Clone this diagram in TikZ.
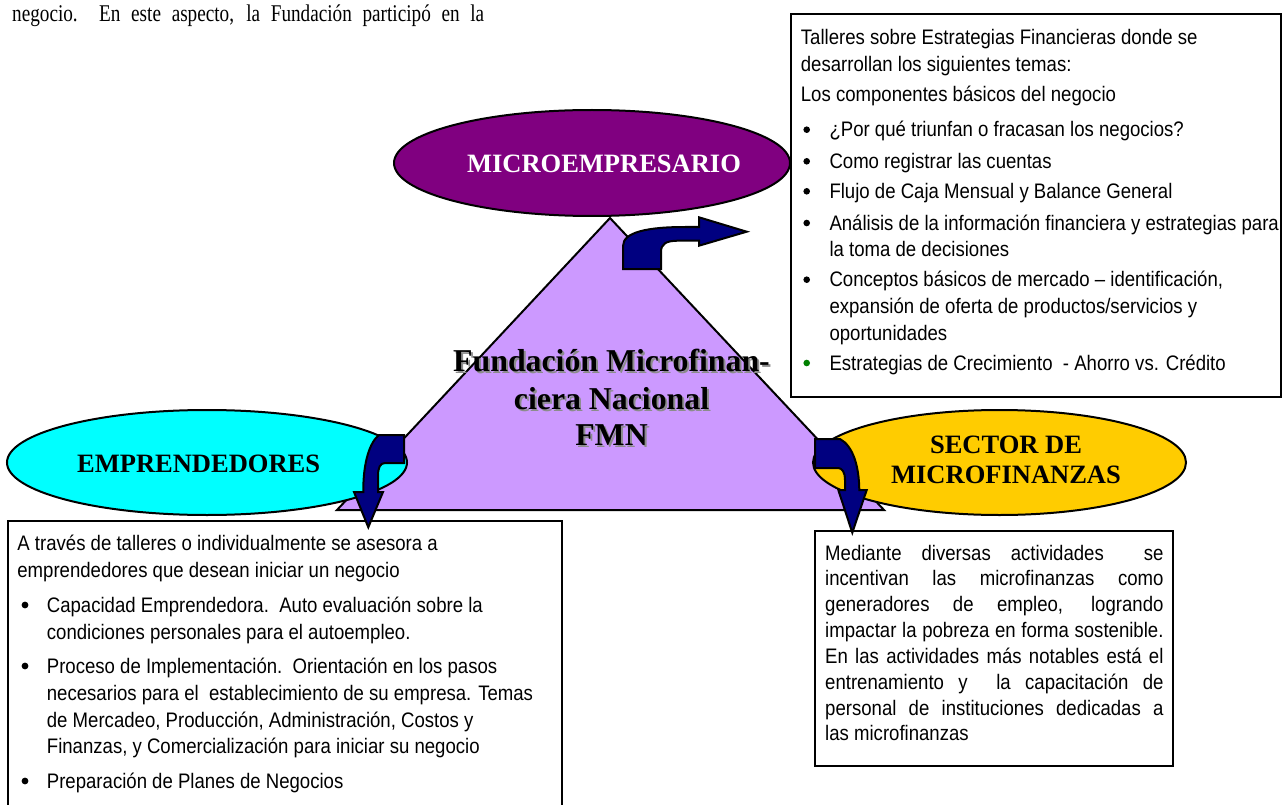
\documentclass[tikz,border=0pt]{standalone}
\usepackage{fontspec}
\setmainfont{Liberation Serif}
\newfontfamily\bodyfont{Liberation Sans}[FakeStretch=0.885]
\newfontfamily\topfont{Liberation Serif}[FakeStretch=0.8]
\usetikzlibrary{shapes.geometric}
\definecolor{lav}{HTML}{CC99FF}
\definecolor{purp}{HTML}{800080}
\definecolor{cyn}{HTML}{00FFFF}
\definecolor{yel}{HTML}{FFCC00}
\definecolor{nav}{HTML}{000080}
\definecolor{grn}{HTML}{008000}
\begin{document}
\begin{tikzpicture}[x=1pt,y=-1pt,
  ell/.style={ellipse, draw=black, line width=2pt, inner sep=0pt},
  lbl/.style={font=\fontsize{26.5}{30}\selectfont\bfseries, inner sep=0pt, anchor=base},
  fmn/.style={font=\fontsize{31.8}{36}\selectfont\bfseries, inner sep=0pt, anchor=base},
  boxframe/.style={draw=black, line width=2pt, fill=white},
  txtline/.style={font=\bodyfont\fontsize{21}{26.7}\selectfont, inner sep=0pt, anchor=base west},
  blockarrow/.style={fill=nav, draw=black, line width=2pt, line join=miter},
  bul/.style={fill=black}
]
\clip (0,0) rectangle (1282,805);
\fill[white] (0,0) rectangle (1282,805);

% top text
\node[anchor=base west, inner sep=0pt, font=\topfont\fontsize{24}{28}\selectfont] (toptext) at (12,22)
  {\makebox[472pt][s]{negocio.\ \ En este aspecto, la Fundación participó en la}};

% triangle
\draw[fill=lav, line width=2pt, line join=miter] (610,218) -- (884,510) -- (337,510) -- cycle;

% ellipses
\node[ell, fill=cyn, minimum width=400pt, minimum height=105pt] (empe) at (207,462.5) {};
\node[ell, fill=yel, minimum width=373pt, minimum height=105pt] (sect) at (999.5,462.5) {};
\node[ell, fill=purp, minimum width=396pt, minimum height=106pt] (micro) at (592,163) {};

\node[lbl, text=white] (microtxt) at (604,172.7) {MICROEMPRESARIO};
\node[lbl] (emptxt) at (198.6,472.7) {EMPRENDEDORES};
\node[lbl] (secttxta) at (1006,453) {SECTOR DE};
\node[lbl] (secttxtb) at (1006,483) {MICROFINANZAS};

% central text with shadow
\node[fmn, text=black!45] (fmnas) at (613.5,373.7) {Fundación Microfinan-};
\node[fmn, text=black!45] (fmnbs) at (613.5,411) {ciera Nacional};
\node[fmn, text=black!45] (fmncs) at (613.5,447) {FMN};
\node[fmn] (fmna) at (611.5,371.7) {Fundación Microfinan-};
\node[fmn] (fmnb) at (611.5,409) {ciera Nacional};
\node[fmn] (fmnc) at (611.5,445) {FMN};

% top-right box
\draw[boxframe] (791,14) rectangle (1281,397);
\node[txtline] (tra) at (800.7,44.5) {Talleres sobre Estrategias Financieras donde se};
\node[txtline] (trb) at (800.7,71.7) {desarrollan los siguientes temas:};
\node[txtline] (trc) at (800.7,101.7) {Los componentes básicos del negocio};
\node[txtline] (trd) at (829.3,136.7) {¿Por qué triunfan o fracasan los negocios?};
\node[txtline] (tre) at (829.3,168.3) {Como registrar las cuentas};
\node[txtline] (trf) at (829.3,198.3) {Flujo de Caja Mensual y Balance General};
\node[txtline] (trg) at (829.3,230) {Análisis de la información financiera y estrategias para};
\node[txtline] (trh) at (829.3,256.7) {la toma de decisiones};
\node[txtline] (tri) at (829.3,286.7) {Conceptos básicos de mercado – identificación,};
\node[txtline] (trj) at (829.3,313.3) {expansión de oferta de productos/servicios y};
\node[txtline] (trk) at (829.3,340) {oportunidades};
\node[txtline] (trl) at (829.3,370) {Estrategias de Crecimiento\ \ - Ahorro vs. Crédito};
\foreach \yy in {136.7,168.3,198.3,230,286.7}
  \fill[bul] (806.7,\yy-7) circle[radius=3.3pt];
\fill[grn] (806.7,363) circle[radius=3.3pt];

% bottom-left box
\draw[boxframe] (8.4,521) rectangle (561.8,830);
\node[txtline] (bla) at (17.2,550) {A través de talleres o individualmente se asesora a};
\node[txtline] (blb) at (17.2,577) {emprendedores que desean iniciar un negocio};
\node[txtline] (blc) at (46.7,612) {Capacidad Emprendedora.\ \ Auto evaluación sobre la};
\node[txtline] (bld) at (46.7,639) {condiciones personales para el autoempleo.};
\node[txtline] (ble) at (46.7,673) {Proceso de Implementación.\ \ Orientación en los pasos};
\node[txtline] (blf) at (46.7,700) {necesarios para el\ \ establecimiento de su empresa. Temas};
\node[txtline] (blg) at (46.7,727) {de Mercadeo, Producción, Administración, Costos y};
\node[txtline] (blh) at (46.7,753) {Finanzas, y Comercialización para iniciar su negocio};
\node[txtline] (bli) at (46.7,788) {Preparación de Planes de Negocios};
\foreach \yy in {612,673,788}
  \fill[bul] (25,\yy-7) circle[radius=3.4pt];

% bottom-right box
\draw[boxframe] (815,530.5) rectangle (1173.3,766);
\node[txtline] (bra) at (825,560) {\makebox[338.3pt][s]{Mediante diversas actividades\ \ se}};
\node[txtline] (brb) at (825,585.8) {\makebox[338.3pt][s]{incentivan las microfinanzas como}};
\node[txtline] (brc) at (825,611.7) {\makebox[338.3pt][s]{generadores de empleo, logrando}};
\node[txtline] (brd) at (825,637.5) {\makebox[338.3pt][s]{impactar la pobreza en forma sostenible.}};
\node[txtline] (bre) at (825,663.3) {\makebox[338.3pt][s]{En las actividades más notables está el}};
\node[txtline] (brf) at (825,689.2) {\makebox[338.3pt][s]{entrenamiento y\ \ la capacitación de}};
\node[txtline] (brg) at (825,715) {\makebox[338.3pt][s]{personal de instituciones dedicadas a}};
\node[txtline] (brh) at (825,740.8) {las microfinanzas};

% block arrows
\draw[blockarrow] (623,269) -- (623,246) .. controls (623,232) and (648,227) .. (685,227)
  -- (699,227) -- (699,217.3) -- (746.7,231.7) -- (699,245.7) -- (699,240.7) -- (678,240.7)
  .. controls (666,240.7) and (661,244) .. (661,252) -- (661,269) -- cycle;
\draw[blockarrow] (404,435) -- (404,463) -- (385,463) .. controls (380,463) and (378,468) .. (378,476)
  -- (378,492) -- (383,492) -- (368.3,527.3) -- (354,492) -- (363.3,492)
  .. controls (363,462) and (370,442) .. (379,435) -- cycle;
\draw[blockarrow] (815,439) -- (815,468) -- (838,468) .. controls (842,468) and (845,472) .. (845,480)
  -- (845,490) -- (838.3,490) -- (852.3,532.7) -- (866.7,490) -- (859.3,490)
  .. controls (859,466) and (853,446) .. (840,439) -- cycle;
\end{tikzpicture}
\end{document}
